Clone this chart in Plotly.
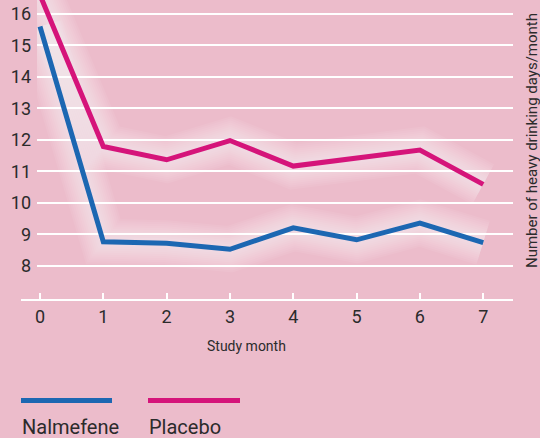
import plotly.graph_objects as go

# Study data: heavy drinking days per month by study month
months = [0, 1, 2, 3, 4, 5, 6, 7]
nalmefene = [15.6, 8.77, 8.72, 8.53, 9.21, 8.83, 9.36, 8.74]
placebo = [16.6, 11.79, 11.37, 11.98, 11.17, 11.43, 11.68, 10.59]
y_ticks = [8, 9, 10, 11, 12, 13, 14, 15, 16]
x_ticks = months

BLUE = "#1c67b2"
PINK = "#d5147a"
BG = "#ecbccb"
TEXT = "#2b2b2b"
FONT = "Roboto"

W, H = 540, 438
L, R, T, B = 37, 27, 0, 138
PW, PH = W - L - R, H - T - B


def px_x(x):
    return (x - L) / PW


def px_y(y):
    return (H - B - y) / PH


fig = go.Figure()

# soft white haze behind each series, built from many faint wide strokes
for series in (placebo, nalmefene):
    for width in range(46, 6, -4):
        fig.add_trace(go.Scatter(
            x=months, y=series, mode="lines",
            line=dict(color="white", width=width),
            opacity=0.06, hoverinfo="skip", showlegend=False,
        ))

fig.add_trace(go.Scatter(x=months, y=placebo, mode="lines", name="Placebo",
                         line=dict(color=PINK, width=5), showlegend=False))
fig.add_trace(go.Scatter(x=months, y=nalmefene, mode="lines", name="Nalmefene",
                         line=dict(color=BLUE, width=5), showlegend=False))

shapes = [
    # x baseline, extended a little past the plot's left edge
    dict(type="line", xref="paper", yref="paper", x0=px_x(21), x1=1, y0=0, y1=0,
         line=dict(color="white", width=2)),
    # legend swatches
    dict(type="line", xref="paper", yref="paper", x0=px_x(21), x1=px_x(112),
         y0=px_y(400.5), y1=px_y(400.5), line=dict(color=BLUE, width=5)),
    dict(type="line", xref="paper", yref="paper", x0=px_x(148), x1=px_x(240),
         y0=px_y(400.5), y1=px_y(400.5), line=dict(color=PINK, width=5)),
]

annotations = [
    dict(text="Study month", xref="paper", yref="paper", x=px_x(246.5), y=px_y(345.5),
         xanchor="center", yanchor="middle", showarrow=False,
         font=dict(family=FONT, size=14, color=TEXT)),
    dict(text="Number of heavy drinking days/month", xref="paper", yref="paper",
         x=px_x(532), y=px_y(141), xanchor="center", yanchor="middle",
         textangle=-90, showarrow=False, font=dict(family=FONT, size=15, color=TEXT)),
    dict(text="Nalmefene", xref="paper", yref="paper", x=px_x(20), y=px_y(426.5),
         xanchor="left", yanchor="middle", showarrow=False,
         font=dict(family=FONT, size=20, color=TEXT)),
    dict(text="Placebo", xref="paper", yref="paper", x=px_x(147), y=px_y(426.5),
         xanchor="left", yanchor="middle", showarrow=False,
         font=dict(family=FONT, size=20, color=TEXT)),
]

fig.update_layout(
    width=W, height=H,
    margin=dict(l=L, r=R, t=T, b=B, pad=0),
    paper_bgcolor=BG, plot_bgcolor=BG,
    font=dict(family=FONT, color=TEXT),
    shapes=shapes, annotations=annotations,
    xaxis=dict(range=[-0.047, 7.47], tickmode="array", tickvals=x_ticks,
               ticktext=[str(v) for v in x_ticks], showgrid=False, zeroline=False,
               showline=False, ticks="inside", ticklen=7, tickwidth=2,
               tickcolor="white", tickfont=dict(size=18, color=TEXT),
               ticklabelstandoff=4, fixedrange=True),
    yaxis=dict(range=[6.92, 16.44], tickmode="array", tickvals=y_ticks,
               ticktext=[str(v) for v in y_ticks], showgrid=True, gridcolor="white",
               gridwidth=2, zeroline=False, showline=False, ticks="",
               tickfont=dict(size=18, color=TEXT), ticklabelstandoff=5,
               fixedrange=True),
)

fig.write_html("out.html")
